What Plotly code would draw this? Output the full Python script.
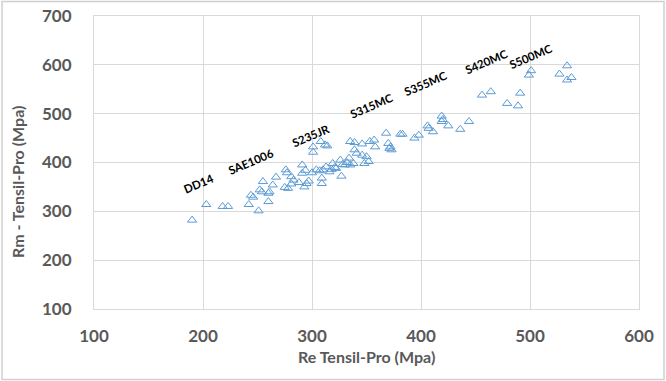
import plotly.graph_objects as go

# Re (yield) vs Rm (tensile), MPa
re_vals = [190, 203, 218, 223, 242, 251, 260, 244, 246, 252, 254, 260, 261, 255, 264, 267, 276, 277, 281, 275,
           278, 281, 283, 288, 293, 291, 291, 295, 294, 297,
           301, 301, 308, 314, 300, 304, 307, 310, 309, 309, 313, 316, 318, 319, 321, 322, 326, 327, 328, 330,
           332, 334, 335, 338, 335, 339, 346, 341, 346, 350, 352, 339, 353, 357, 358, 348, 312, 368, 370, 371,
           373, 372, 381, 383, 394, 398, 406, 407, 411, 419, 420, 419, 425, 436, 444, 456, 464, 479, 489, 491,
           499, 501, 527, 534, 534, 538]
rm_vals = [282, 314, 310, 310, 314, 301, 320, 333, 329, 344, 340, 337, 340, 361, 354, 370, 385, 379, 371, 349,
           347, 356, 364, 359, 350, 395, 378, 357, 384, 362,
           432, 421, 443, 434, 379, 385, 383, 385, 368, 357, 391, 381, 386, 398, 390, 388, 405, 372, 396, 395,
           400, 409, 395, 398, 443, 441, 438, 419, 415, 412, 402, 426, 443, 446, 432, 398, 436, 460, 439, 429,
           426, 432, 458, 458, 450, 456, 475, 470, 463, 495, 488, 484, 475, 468, 484, 538, 545, 521, 516, 542,
           579, 588, 581, 598, 569, 574]

grade_labels = ["DD14", "SAE1006", "S235JR", "S315MC", "S355MC", "S420MC", "S500MC"]
grade_x = [196, 244, 299, 355, 404, 460, 500]
grade_y = [357, 402, 456, 516, 562, 606, 618]

x_ticks = [100, 200, 300, 400, 500, 600]
y_ticks = [100, 200, 300, 400, 500, 600, 700]

FONT = "Lato, 'Open Sans', sans-serif"
GRAY = "#595959"
GRID = "#D9D9D9"

fig = go.Figure()
fig.add_trace(go.Scatter(
    x=re_vals, y=rm_vals, mode="markers",
    marker=dict(symbol="triangle-up-open", size=8, color="#5B9BD5", line=dict(width=1, color="#5B9BD5")),
    showlegend=False, hoverinfo="x+y"))

for lab, gx, gy in zip(grade_labels, grade_x, grade_y):
    fig.add_annotation(x=gx, y=gy, text=lab, showarrow=False, textangle=-23,
                       font=dict(family=FONT, size=11.5, color="#000000", weight="bold"),
                       xanchor="center", yanchor="middle")

fig.add_annotation(xref="paper", yref="paper", x=0.5, y=-0.1638, text="Re Tensil-Pro (Mpa)",
                   showarrow=False, xanchor="center", yanchor="middle",
                   font=dict(family=FONT, size=16, color=GRAY, weight="bold"))
fig.add_annotation(xref="paper", yref="paper", x=-0.1413, y=0.4334, text="Rm - Tensil-Pro (Mpa)",
                   showarrow=False, xanchor="center", yanchor="middle", textangle=-90,
                   font=dict(family=FONT, size=16, color=GRAY, weight="bold"))

# outer chart border
fig.add_shape(type="rect", xref="paper", yref="paper", x0=-0.1688, x1=1.0459, y0=-0.2406, y1=1.0495,
              line=dict(color="#D0D0D0", width=1.5), fillcolor="rgba(0,0,0,0)", layer="below")

fig.update_layout(
    width=666, height=381,
    margin=dict(l=94, r=27, t=16, b=72, autoexpand=False),
    paper_bgcolor="white", plot_bgcolor="white",
    xaxis=dict(range=[100, 600], tickvals=x_ticks, showgrid=True, gridcolor=GRID, gridwidth=1,
               zeroline=False, showline=True, linecolor=GRID, linewidth=1, mirror=True,
               ticks="", ticklabelstandoff=12, automargin=False,
               tickfont=dict(family=FONT, size=17, color=GRAY, weight="bold")),
    yaxis=dict(range=[100, 700], tickvals=y_ticks, showgrid=True, gridcolor=GRID, gridwidth=1,
               zeroline=False, showline=True, linecolor=GRID, linewidth=1, mirror=True,
               ticks="", ticklabelstandoff=18, automargin=False,
               tickfont=dict(family=FONT, size=17, color=GRAY, weight="bold")),
)

fig.write_html("out.html", config={"displayModeBar": False},
               post_script="document.body.style.margin='0';document.body.style.overflow='hidden';")
